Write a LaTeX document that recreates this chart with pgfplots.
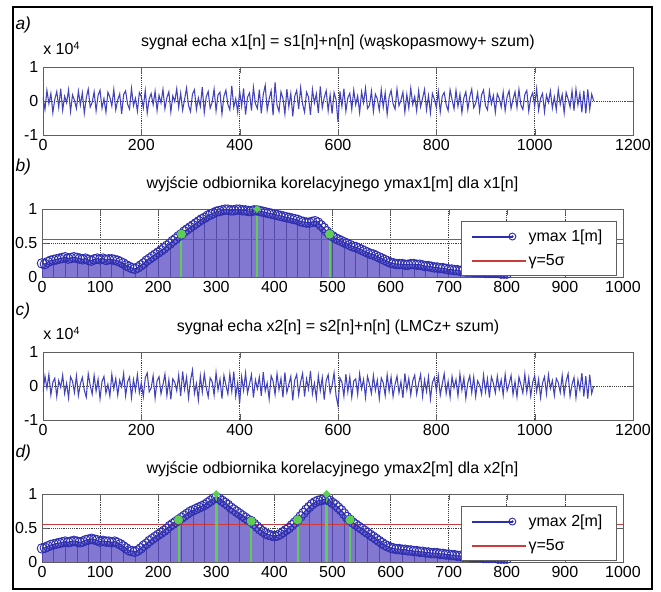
\documentclass[border=0pt]{standalone}
\usepackage{fontspec}
\setmainfont{Liberation Sans}
\usepackage{pgfplots}
\usepackage{pgfplotstable}
\pgfplotsset{compat=1.18}
\definecolor{noisecol}{RGB}{66,66,188}
\definecolor{markcol}{RGB}{45,45,175}
\definecolor{fillcol}{RGB}{130,120,210}
\definecolor{combcol}{RGB}{82,72,168}
\definecolor{greencol}{RGB}{95,205,85}
\definecolor{redcol}{RGB}{205,60,60}
\definecolor{axisgray}{RGB}{95,95,95}
\newcommand\tickfont{\fontsize{12}{14}\selectfont}

% echo signals, x step 4 (units of 10^4)
\pgfplotstableread[row sep=\\,header=false]{
0.12\\ -0.25\\ 0.31\\ -0.08\\ 0.22\\ -0.34\\ 0.05\\ 0.28\\ -0.19\\ 0.36\\
-0.27\\ 0.14\\ -0.05\\ 0.33\\ -0.31\\ 0.18\\ 0.02\\ -0.22\\ 0.29\\ -0.12\\
0.24\\ -0.36\\ 0.09\\ 0.35\\ -0.18\\ -0.04\\ 0.27\\ -0.29\\ 0.16\\ 0.32\\
-0.21\\ 0.07\\ -0.33\\ 0.26\\ 0.11\\ -0.15\\ 0.34\\ -0.26\\ 0.03\\ 0.21\\
-0.38\\ 0.19\\ 0.30\\ -0.09\\ -0.24\\ 0.37\\ -0.14\\ 0.08\\ -0.30\\ 0.25\\
0.13\\ -0.20\\ 0.31\\ -0.35\\ 0.06\\ 0.22\\ -0.11\\ 0.29\\ -0.28\\ 0.17\\
-0.06\\ 0.34\\ -0.23\\ 0.10\\ 0.27\\ -0.32\\ 0.15\\ -0.02\\ 0.36\\ -0.19\\
0.23\\ -0.27\\ 0.05\\ 0.38\\ -0.13\\ -0.31\\ 0.20\\ 0.33\\ -0.25\\ 0.09\\
-0.16\\ 0.41\\ -0.34\\ 0.12\\ 0.28\\ -0.21\\ -0.04\\ 0.35\\ -0.29\\ 0.18\\
0.26\\ -0.38\\ 0.14\\ 0.32\\ -0.10\\ -0.26\\ 0.44\\ -0.18\\ 0.07\\ -0.33\\
0.29\\ -0.15\\ 0.37\\ -0.40\\ 0.11\\ 0.24\\ -0.28\\ 0.40\\ -0.08\\ -0.22\\
0.33\\ -0.36\\ 0.19\\ 0.46\\ -0.27\\ 0.06\\ 0.30\\ -0.42\\ 0.55\\ -0.12\\
-0.31\\ 0.27\\ 0.08\\ -0.38\\ 0.35\\ -0.17\\ 0.22\\ -0.45\\ 0.14\\ 0.31\\
-0.24\\ 0.39\\ -0.09\\ -0.33\\ 0.26\\ 0.12\\ -0.41\\ 0.34\\ -0.06\\ 0.21\\
-0.35\\ 0.43\\ -0.20\\ 0.10\\ 0.30\\ -0.29\\ 0.18\\ -0.37\\ 0.25\\ 0.04\\
-0.62\\ 0.28\\ -0.16\\ 0.36\\ -0.30\\ 0.09\\ 0.23\\ -0.25\\ 0.32\\ -0.11\\
0.15\\ -0.34\\ 0.27\\ -0.05\\ 0.38\\ -0.22\\ -0.13\\ 0.29\\ -0.31\\ 0.20\\
0.06\\ -0.27\\ 0.33\\ -0.18\\ 0.24\\ -0.39\\ 0.12\\ 0.31\\ -0.08\\ -0.24\\
0.35\\ -0.14\\ 0.02\\ 0.26\\ -0.33\\ 0.19\\ -0.21\\ 0.37\\ -0.10\\ 0.13\\
-0.29\\ 0.30\\ -0.17\\ 0.08\\ 0.34\\ -0.26\\ 0.16\\ -0.35\\ 0.22\\ 0.05\\
-0.19\\ 0.28\\ -0.32\\ 0.14\\ 0.25\\ -0.11\\ -0.28\\ 0.33\\ 0.04\\ -0.23\\
0.31\\ -0.16\\ 0.20\\ -0.34\\ 0.09\\ 0.27\\ -0.25\\ 0.12\\ 0.35\\ -0.20\\
-0.07\\ 0.24\\ -0.30\\ 0.18\\ 0.32\\ -0.14\\ -0.26\\ 0.29\\ -0.09\\ 0.16\\
-0.33\\ 0.21\\ 0.07\\ -0.18\\ 0.26\\ -0.28\\ 0.13\\ 0.30\\ -0.22\\ 0.05\\
0.27\\ -0.19\\ 0.34\\ -0.12\\ -0.25\\ 0.19\\ 0.31\\ -0.30\\ 0.10\\ 0.24\\
-0.15\\ 0.36\\ -0.27\\ 0.08\\ 0.22\\ -0.32\\ 0.17\\ -0.04\\ 0.29\\ -0.21\\
0.12\\ -0.26\\ 0.33\\ -0.10\\ 0.19\\ -0.35\\ 0.25\\ 0.06\\ -0.18\\ 0.30\\
-0.28\\ 0.35\\ -0.12\\ 0.22\\ -0.33\\ 0.30\\ -0.36\\ 0.34\\ -0.25\\ 0.20\\
0.00\\
}\xA

\pgfplotstableread[row sep=\\,header=false]{
-0.18\\ 0.29\\ -0.07\\ 0.34\\ -0.26\\ 0.11\\ 0.23\\ -0.31\\ 0.16\\ -0.04\\
0.32\\ -0.22\\ 0.08\\ -0.35\\ 0.27\\ 0.14\\ -0.19\\ 0.30\\ -0.28\\ 0.06\\
0.25\\ -0.12\\ -0.33\\ 0.36\\ 0.02\\ -0.24\\ 0.31\\ -0.15\\ 0.20\\ -0.37\\
0.13\\ 0.28\\ -0.21\\ 0.05\\ -0.30\\ 0.34\\ -0.09\\ 0.22\\ -0.27\\ 0.17\\
-0.03\\ 0.37\\ -0.29\\ 0.12\\ 0.26\\ -0.34\\ 0.19\\ -0.13\\ 0.33\\ -0.20\\
0.09\\ -0.31\\ 0.24\\ 0.38\\ -0.17\\ -0.06\\ 0.30\\ -0.36\\ 0.15\\ 0.27\\
-0.23\\ 0.04\\ 0.35\\ -0.28\\ 0.18\\ -0.39\\ 0.21\\ 0.11\\ -0.14\\ 0.32\\
-0.30\\ 0.43\\ -0.10\\ 0.26\\ -0.35\\ 0.16\\ 0.47\\ -0.22\\ 0.07\\ -0.41\\
0.29\\ -0.18\\ 0.36\\ -0.05\\ -0.32\\ 0.24\\ 0.13\\ -0.27\\ 0.39\\ -0.12\\
0.20\\ -0.37\\ 0.31\\ 0.03\\ -0.24\\ 0.35\\ -0.16\\ 0.42\\ -0.30\\ 0.10\\
-0.50\\ 0.27\\ -0.13\\ 0.38\\ -0.21\\ 0.06\\ 0.33\\ -0.34\\ 0.18\\ -0.08\\
0.26\\ -0.29\\ 0.41\\ -0.15\\ 0.09\\ -0.38\\ 0.30\\ 0.14\\ -0.25\\ 0.36\\
-0.11\\ 0.22\\ -0.33\\ 0.40\\ -0.19\\ 0.05\\ 0.28\\ -0.42\\ 0.17\\ 0.34\\
-0.26\\ 0.12\\ 0.37\\ -0.31\\ 0.21\\ -0.09\\ 0.44\\ -0.23\\ 0.08\\ -0.36\\
0.30\\ -0.14\\ 0.25\\ -0.40\\ 0.16\\ 0.33\\ -0.20\\ 0.02\\ 0.38\\ -0.28\\
-0.58\\ 0.24\\ 0.11\\ -0.30\\ 0.35\\ -0.17\\ 0.27\\ -0.33\\ 0.14\\ 0.21\\
-0.25\\ 0.36\\ -0.08\\ 0.19\\ -0.34\\ 0.28\\ 0.06\\ -0.22\\ 0.31\\ -0.13\\
0.17\\ -0.37\\ 0.24\\ 0.09\\ -0.28\\ 0.33\\ -0.15\\ 0.26\\ -0.31\\ 0.04\\
0.29\\ -0.20\\ 0.13\\ -0.35\\ 0.37\\ -0.11\\ 0.22\\ -0.26\\ 0.15\\ 0.32\\
-0.24\\ 0.08\\ 0.34\\ -0.30\\ 0.18\\ -0.16\\ 0.27\\ -0.38\\ 0.10\\ 0.25\\
-0.13\\ 0.31\\ -0.27\\ 0.05\\ 0.36\\ -0.22\\ 0.14\\ -0.33\\ 0.28\\ -0.06\\
0.19\\ -0.29\\ 0.35\\ -0.12\\ 0.24\\ -0.36\\ 0.09\\ 0.30\\ -0.19\\ 0.26\\
-0.31\\ 0.15\\ 0.03\\ -0.24\\ 0.32\\ -0.17\\ 0.21\\ -0.34\\ 0.27\\ 0.08\\
-0.20\\ 0.29\\ -0.10\\ 0.18\\ -0.27\\ 0.34\\ -0.14\\ 0.06\\ 0.31\\ -0.25\\
0.13\\ -0.32\\ 0.26\\ 0.04\\ -0.21\\ 0.35\\ -0.18\\ 0.24\\ -0.29\\ 0.11\\
0.30\\ -0.16\\ 0.20\\ -0.34\\ 0.09\\ 0.27\\ -0.23\\ 0.33\\ -0.07\\ 0.16\\
-0.28\\ 0.22\\ 0.10\\ -0.19\\ 0.31\\ -0.26\\ 0.14\\ 0.36\\ -0.30\\ 0.05\\
0.25\\ -0.35\\ 0.18\\ -0.12\\ 0.38\\ -0.31\\ 0.29\\ -0.37\\ 0.33\\ -0.22\\
0.00\\
}\xB

% correlator outputs, x step 5
\pgfplotstableread[row sep=\\,header=false]{
0.20\\ 0.19\\ 0.22\\ 0.24\\ 0.25\\ 0.26\\ 0.27\\ 0.28\\ 0.29\\ 0.27\\
0.28\\ 0.29\\ 0.28\\ 0.27\\ 0.26\\ 0.27\\ 0.25\\ 0.24\\ 0.26\\ 0.27\\
0.26\\ 0.27\\ 0.25\\ 0.26\\ 0.26\\ 0.25\\ 0.24\\ 0.22\\ 0.20\\ 0.17\\
0.15\\ 0.13\\ 0.12\\ 0.14\\ 0.17\\ 0.20\\ 0.24\\ 0.27\\ 0.30\\ 0.33\\
0.36\\ 0.39\\ 0.42\\ 0.46\\ 0.49\\ 0.53\\ 0.56\\ 0.60\\ 0.63\\ 0.67\\
0.70\\ 0.73\\ 0.76\\ 0.79\\ 0.82\\ 0.85\\ 0.87\\ 0.90\\ 0.92\\ 0.94\\
0.96\\ 0.97\\ 0.98\\ 0.99\\ 0.99\\ 0.98\\ 0.98\\ 0.99\\ 0.99\\ 0.98\\
0.98\\ 0.97\\ 0.97\\ 0.98\\ 0.98\\ 0.97\\ 0.96\\ 0.95\\ 0.94\\ 0.93\\
0.92\\ 0.91\\ 0.90\\ 0.89\\ 0.88\\ 0.87\\ 0.86\\ 0.85\\ 0.84\\ 0.82\\
0.81\\ 0.80\\ 0.80\\ 0.81\\ 0.82\\ 0.80\\ 0.76\\ 0.72\\ 0.67\\ 0.63\\
0.60\\ 0.57\\ 0.55\\ 0.53\\ 0.51\\ 0.49\\ 0.47\\ 0.45\\ 0.44\\ 0.42\\
0.40\\ 0.38\\ 0.36\\ 0.34\\ 0.33\\ 0.31\\ 0.29\\ 0.27\\ 0.25\\ 0.23\\
0.21\\ 0.20\\ 0.19\\ 0.19\\ 0.19\\ 0.18\\ 0.18\\ 0.19\\ 0.19\\ 0.18\\
0.18\\ 0.17\\ 0.16\\ 0.16\\ 0.15\\ 0.14\\ 0.14\\ 0.13\\ 0.13\\ 0.12\\
0.11\\ 0.11\\ 0.10\\ 0.10\\ 0.09\\ 0.09\\ 0.08\\ 0.08\\ 0.08\\ 0.07\\
0.07\\ 0.07\\ 0.07\\ 0.06\\ 0.06\\ 0.06\\ 0.06\\ 0.06\\ 0.05\\ 0.05\\
0.05\\
}\yA

\pgfplotstableread[row sep=\\,header=false]{
0.20\\ 0.21\\ 0.23\\ 0.25\\ 0.26\\ 0.27\\ 0.28\\ 0.29\\ 0.30\\ 0.29\\
0.30\\ 0.31\\ 0.30\\ 0.29\\ 0.30\\ 0.32\\ 0.33\\ 0.34\\ 0.33\\ 0.32\\
0.30\\ 0.31\\ 0.30\\ 0.30\\ 0.29\\ 0.30\\ 0.28\\ 0.26\\ 0.23\\ 0.20\\
0.17\\ 0.16\\ 0.15\\ 0.17\\ 0.20\\ 0.24\\ 0.27\\ 0.31\\ 0.34\\ 0.37\\
0.40\\ 0.43\\ 0.46\\ 0.49\\ 0.53\\ 0.56\\ 0.59\\ 0.62\\ 0.65\\ 0.68\\
0.71\\ 0.74\\ 0.76\\ 0.78\\ 0.80\\ 0.82\\ 0.84\\ 0.87\\ 0.90\\ 0.93\\
0.95\\ 0.93\\ 0.90\\ 0.87\\ 0.84\\ 0.80\\ 0.77\\ 0.74\\ 0.71\\ 0.68\\
0.65\\ 0.62\\ 0.60\\ 0.56\\ 0.52\\ 0.48\\ 0.45\\ 0.42\\ 0.40\\ 0.39\\
0.38\\ 0.39\\ 0.41\\ 0.44\\ 0.47\\ 0.50\\ 0.54\\ 0.58\\ 0.62\\ 0.67\\
0.72\\ 0.77\\ 0.81\\ 0.85\\ 0.88\\ 0.90\\ 0.91\\ 0.92\\ 0.92\\ 0.90\\
0.87\\ 0.84\\ 0.80\\ 0.76\\ 0.71\\ 0.66\\ 0.62\\ 0.58\\ 0.55\\ 0.52\\
0.49\\ 0.46\\ 0.43\\ 0.40\\ 0.37\\ 0.34\\ 0.31\\ 0.28\\ 0.25\\ 0.23\\
0.21\\ 0.20\\ 0.19\\ 0.19\\ 0.18\\ 0.18\\ 0.17\\ 0.17\\ 0.16\\ 0.16\\
0.15\\ 0.15\\ 0.14\\ 0.14\\ 0.13\\ 0.13\\ 0.13\\ 0.12\\ 0.12\\ 0.11\\
0.11\\ 0.10\\ 0.10\\ 0.09\\ 0.09\\ 0.08\\ 0.08\\ 0.08\\ 0.07\\ 0.07\\
0.07\\ 0.07\\ 0.06\\ 0.06\\ 0.06\\ 0.06\\ 0.06\\ 0.05\\ 0.05\\ 0.05\\
0.05\\
}\yB

% threshold gamma = 0.55
\pgfplotstableread{
x y
0 0.55
1000 0.55
}\gam

\pgfplotsset{
  base/.style={scale only axis, height=51pt,
    axis line style={axisgray}, tick style={axisgray},
    grid=major, grid style={densely dotted, black!75, line width=0.5pt},
    tick label style={font=\tickfont},
    /pgf/number format/assume math mode=true,
    /pgf/number format/1000 sep={},
    title style={font=\tickfont, anchor=base, at={(0.5,1)}, yshift=9.5pt}},
  noise/.style={base, width=442.5pt,
    xmin=0, xmax=1200, ymin=-1, ymax=1,
    xtick={0,200,...,1200}, ytick={-1,0,1}},
  corr/.style={base, width=435.75pt,
    xmin=0, xmax=1000, ymin=0, ymax=1,
    xtick={0,100,...,1000}, ytick={0,0.5,1},
    legend style={at={(0.988,0.025)}, anchor=south east, draw=axisgray,
      fill=white, font=\tickfont, inner xsep=8pt, inner ysep=4pt,
      row sep=4pt},
    legend cell align=left},
  blueentry/.style={legend image code/.code={
    \fill[markcol] (0pt,-0.4pt) rectangle (30pt,0.4pt);
    \draw[markcol, line width=0.7pt] (30pt,0pt) circle (2.6pt);
    \fill[markcol] (30pt,0pt) circle (0.7pt);}},
  redentry/.style={legend image code/.code={
    \fill[redcol] (0pt,-0.4pt) rectangle (40pt,0.4pt);}},
}

\newcommand\corrplots[1]{%
  \addplot[fill=fillcol, draw=none, forget plot]
    table[x expr=\coordindex*5, y index=0] {#1} \closedcycle;
  \addplot[ycomb, draw=combcol, line width=0.4pt, each nth point=4,
    filter discard warning=false, forget plot]
    table[x expr=\coordindex*5, y index=0] {#1};
  % threshold drawn twice, with two colour specifications
  \addplot[draw={rgb,255:red,205;green,60;blue,60}, line width=0.7pt,
    forget plot] table[x=x, y=y] {\gam};
  \addplot[color=redcol, draw=redcol, line width=0.7pt,
    forget plot] table[x=x, y=y] {\gam};
  \addplot[color=markcol, line width=0.8pt, mark=o, mark size=3.6pt,
    mark options={line width=0.7pt}, forget plot]
    table[x expr=\coordindex*5, y index=0] {#1};
}

\begin{document}
\begin{tikzpicture}
\useasboundingbox (0,0) rectangle (495.75pt,444pt);
\draw[line width=0.8pt] (9.75pt,2.25pt) rectangle (489pt,438.75pt);
\foreach \lab/\yy in {a)/425.25pt, b)/318.75pt, c)/210.75pt, d)/104.25pt}
  \node[anchor=west, inner sep=0pt, font=\fontsize{13}{15}\selectfont\itshape] at (11.5pt,\yy) {\lab};

% d) drawn first
\begin{axis}[corr, at={(31.5pt,22.5pt)},
  title={wyjście odbiornika korelacyjnego ymax2[m] dla x2[n]}]
\corrplots{\yB}
\addplot[ycomb, greencol, line width=1.5pt, mark=*, mark size=2.6pt, forget plot]
  coordinates {(235,0.62) (360,0.60) (440,0.62) (530,0.62)};
\addplot[ycomb, greencol, line width=2.2pt, mark=*, mark size=1.4pt, forget plot]
  coordinates {(300,1) (490,1)};
\addlegendimage{blueentry}
\addlegendimage{redentry}
\legend{{ymax 2[m]},{γ=5σ}}
\end{axis}

% b)
\begin{axis}[corr, at={(31.5pt,236.25pt)},
  title={wyjście odbiornika korelacyjnego ymax1[m] dla x1[n]}]
\corrplots{\yA}
\addplot[ycomb, greencol, line width=1.5pt, mark=*, mark size=2.6pt, forget plot]
  coordinates {(240,0.63) (495,0.63)};
\addplot[ycomb, greencol, line width=2.2pt, mark=*, mark size=1.4pt, forget plot]
  coordinates {(370,1)};
\addlegendimage{blueentry}
\addlegendimage{redentry}
\legend{{ymax 1[m]},{γ=5σ}}
\end{axis}

% a)
\begin{axis}[noise, name=axA, at={(32.25pt,342.75pt)},
  title={sygnał echa x1[n] = s1[n]+n[n] (wąskopasmowy+ szum)}]
\addplot[noisecol, line width=0.8pt] table[x expr=\coordindex*4, y index=0] {\xA};
\end{axis}
\node[anchor=base west, inner sep=0pt, font=\tickfont] at ([yshift=9pt]axA.north west) {x 10\textsuperscript{4}};

% c)
\begin{axis}[noise, name=axC, at={(32.25pt,129pt)},
  title={sygnał echa x2[n] = s2[n]+n[n] (LMCz+ szum)}]
\addplot[noisecol, line width=0.8pt] table[x expr=\coordindex*4, y index=0] {\xB};
\end{axis}
\node[anchor=base west, inner sep=0pt, font=\tickfont] at ([yshift=9pt]axC.north west) {x 10\textsuperscript{4}};
\end{tikzpicture}
\end{document}
